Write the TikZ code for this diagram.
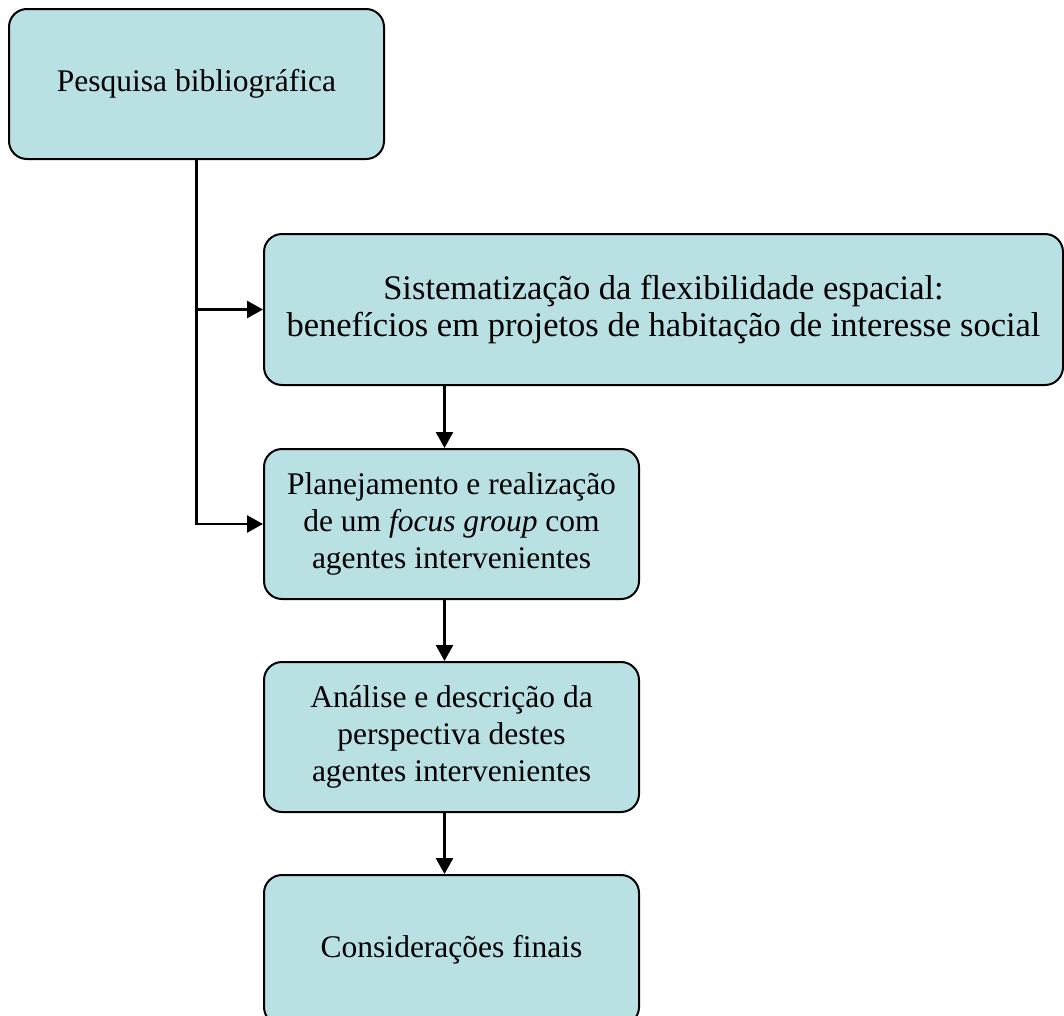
\documentclass[tikz,border=0pt]{standalone}
\usepackage{fontspec}
\setmainfont{Liberation Serif}
\usetikzlibrary{arrows.meta,positioning}
\definecolor{caixa}{RGB}{185,224,227}
\begin{document}
\begin{tikzpicture}[x=1pt,y=1pt]
	\tikzstyle{etapa} = [rectangle,rounded corners=18pt,line width=2pt,draw=black,fill=caixa,minimum width=375pt,minimum height=150pt,align=center,inner sep=0pt,font=\fontsize{31.5}{37}\selectfont]
	\tikzstyle{seta} = [-{Triangle[length=16pt,width=17pt]},line width=2.6pt]
	\useasboundingbox (0,0) rectangle (1064,-1015);
		
		\node[etapa,anchor=north west] (e1) at (8,-8){Pesquisa bibliográfica};
		\node[etapa,anchor=north west,minimum width=799pt,minimum height=151pt,font=\fontsize{34.5}{37}\selectfont] (e2) at (263,-233){Sistematização da flexibilidade espacial:\\benefícios em projetos de habitação de interesse social};
		\node[etapa,anchor=north west] (e3) at ([yshift=-62pt]e2.south west){Planejamento e realização\\de um \textit{focus group} com\\agentes intervenientes};
		\node[etapa,anchor=north west] (e4) at ([yshift=-61pt]e3.south west){Análise e descrição da\\perspectiva destes\\agentes intervenientes};
		\node[etapa,anchor=north west] (e5) at ([yshift=-61pt]e4.south west){Considerações finais};
		
		\draw[seta] (e1.south) |- (e3.west);
		\draw[seta] (e1.south |- e2.west) -- (e2.west);
		
		\draw[seta] ([xshift=-7pt]e3.north |- e2.south) -- ([xshift=-7pt]e3.north);
		\draw[seta] ([xshift=-7pt]e3.south) -- ([xshift=-7pt]e4.north);
		\draw[seta] ([xshift=-7pt]e4.south) -- ([xshift=-7pt]e5.north);
		
\end{tikzpicture}
\end{document}
